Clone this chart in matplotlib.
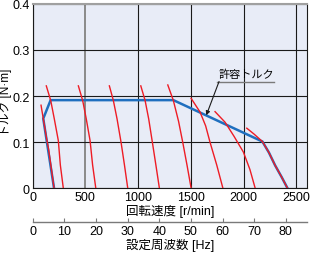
import matplotlib
matplotlib.use("Agg")
import matplotlib.pyplot as plt

plt.rcParams['font.family'] = ['Liberation Sans Narrow', 'Liberation Sans', 'Noto Sans CJK JP']

# speed-torque curves for each set frequency (speed r/min, torque N·m)
curve_speed = [
    [79, 100, 130, 150, 178, 202],
    [129, 171, 205, 243, 262, 290],
    [433, 474, 508, 544, 568, 598],
    [727, 765, 800, 838, 870, 901],
    [1025, 1066, 1100, 1135, 1168, 1201],
    [1281, 1334, 1383, 1423, 1463, 1502],
    [1502, 1587, 1640, 1682, 1745, 1803],
    [1729, 1824, 1910, 1998, 2060, 2109],
    [2030, 2100, 2178, 2240, 2299, 2360, 2415],
]
curve_torque = [
    [0.180, 0.151, 0.110, 0.085, 0.040, 0.0],
    [0.222, 0.190, 0.150, 0.103, 0.050, 0.0],
    [0.222, 0.190, 0.150, 0.103, 0.050, 0.0],
    [0.222, 0.190, 0.150, 0.099, 0.050, 0.0],
    [0.222, 0.190, 0.150, 0.099, 0.050, 0.0],
    [0.224, 0.190, 0.145, 0.099, 0.050, 0.0],
    [0.195, 0.165, 0.135, 0.099, 0.050, 0.0],
    [0.166, 0.143, 0.112, 0.078, 0.040, 0.0],
    [0.130, 0.117, 0.101, 0.077, 0.049, 0.024, 0.0],
]

# allowable torque
allow_speed = [202, 100, 170, 1334, 2178, 2240, 2299, 2360, 2415]
allow_torque = [0.0, 0.151, 0.191, 0.191, 0.101, 0.077, 0.049, 0.024, 0.0]

x_ticks = [0, 500, 1000, 1500, 2000, 2500]
y_ticks = [0, 0.1, 0.2, 0.3, 0.4]
y_labels = ['0', '0.1', '0.2', '0.3', '0.4']
hz_ticks = [0, 10, 20, 30, 40, 50, 60, 70, 80]
rpm_per_hz = 30

fig = plt.figure(figsize=(3.1, 2.55), dpi=100)
ax = fig.add_axes([0.1055, 0.2588, 0.8845, 0.7216])
ax.set_facecolor('#e8ecf7')
ax.set_xlim(0, 2600)
ax.set_ylim(0, 0.4)

ax.set_xticks(x_ticks)
ax.set_yticks(y_ticks)
ax.set_yticklabels(y_labels)
ax.tick_params(length=0, labelsize=9, pad=2)
ax.grid(True, color='#1a1a1a', linewidth=0.8)
ax.get_xgridlines()[1].set_color('#8a8a8a')
ax.get_xgridlines()[1].set_linewidth(1.4)
ax.set_axisbelow(True)

for s in ['left', 'bottom', 'right']:
    ax.spines[s].set_color('#1a1a1a')
    ax.spines[s].set_linewidth(0.8)
ax.spines['top'].set_color('#a0a0a0')
ax.spines['top'].set_linewidth(1.5)

ax.plot(allow_speed, allow_torque, color='#1f6fbf', linewidth=1.8, zorder=3,
        solid_joinstyle='miter')
for sp, tq in zip(curve_speed, curve_torque):
    ax.plot(sp, tq, color='#ee1c25', linewidth=1.0, zorder=4)

ax.set_xlabel('回転速度 [r/min]', fontsize=9, labelpad=1)
ax.set_ylabel('トルク [N·m]', fontsize=8.5)
ax.yaxis.set_label_coords(-0.077, 0.47)

# annotation
ax.text(1760, 0.236, '許容トルク', fontsize=8, ha='left', va='bottom', zorder=5)
ax.plot([1750, 2285], [0.2315, 0.2315], color='#7a7a7a', linewidth=1.0,
        clip_on=False, zorder=5)
ax.annotate('', xy=(1646, 0.158), xytext=(1767, 0.2315),
            arrowprops=dict(arrowstyle='-|>', color='#1a1a1a', lw=0.8,
                            mutation_scale=6, shrinkA=0, shrinkB=0), zorder=5)

# frequency axis
sec = ax.secondary_xaxis(-0.185, functions=(lambda x: x / rpm_per_hz,
                                            lambda f: f * rpm_per_hz))
sec.set_xticks(hz_ticks)
sec.tick_params(direction='in', length=3, width=0.8, color='#7a7a7a',
                labelsize=9, pad=2)
sec.spines['bottom'].set_color('#7a7a7a')
sec.spines['bottom'].set_linewidth(1.0)
sec.set_xlabel('設定周波数 [Hz]', fontsize=9, labelpad=1)

fig.savefig('out.png', dpi=100)
